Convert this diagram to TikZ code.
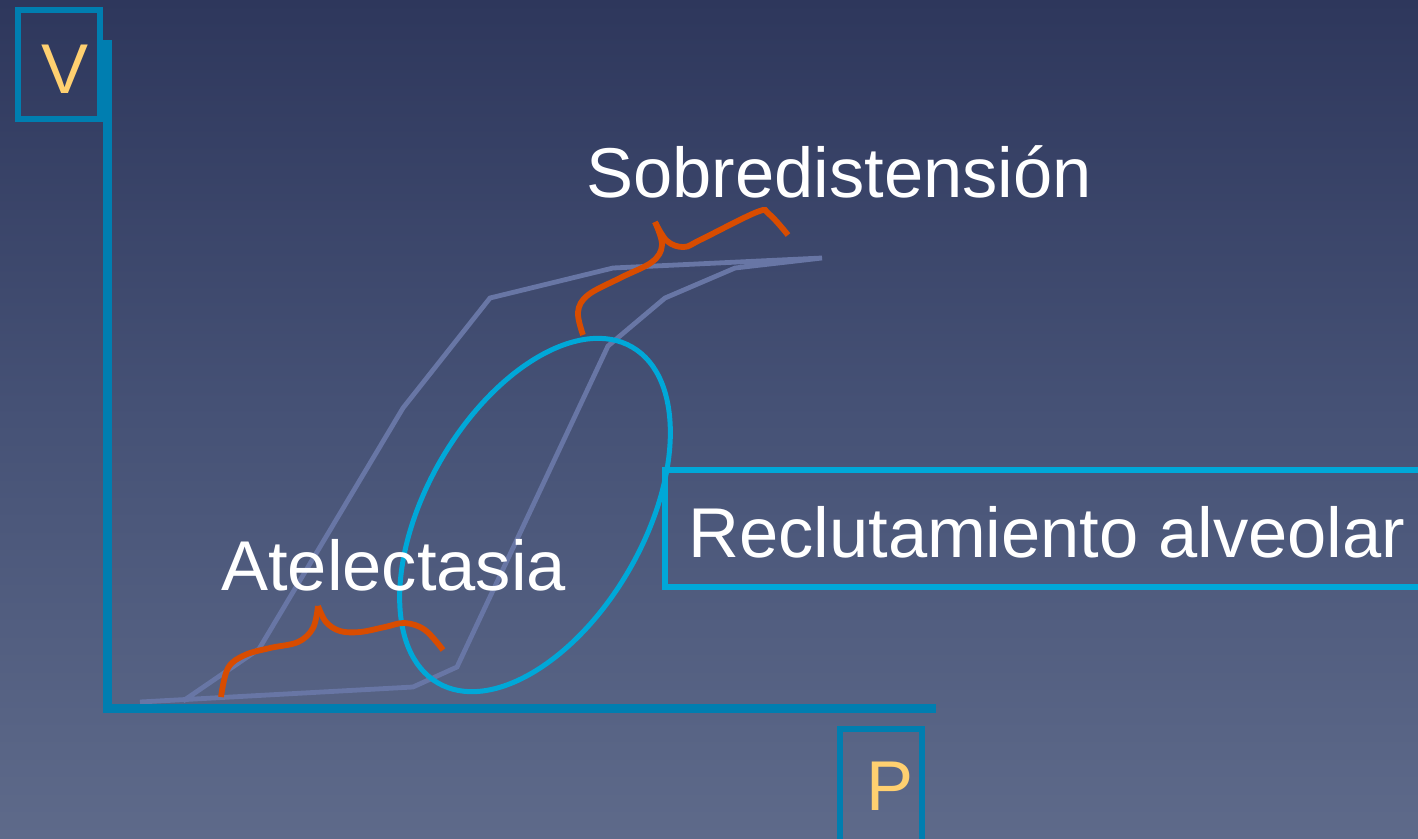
\documentclass[tikz,border=0pt]{standalone}
\usepackage{fontspec}
\setmainfont{Liberation Sans}
\usetikzlibrary{shapes.geometric}
\definecolor{bgtop}{RGB}{46,55,92}
\definecolor{bgmid}{RGB}{70,82,118}
\definecolor{bgbot}{RGB}{94,106,138}
\definecolor{axisblue}{RGB}{0,126,176}
\definecolor{cyanline}{RGB}{0,168,216}
\definecolor{loopcol}{RGB}{104,118,165}
\definecolor{bracecol}{RGB}{216,76,0}
\definecolor{labelyellow}{RGB}{255,208,112}
\tikzset{
  axisline/.style={draw=axisblue, line width=9pt},
  axisbox/.style={draw=axisblue, line width=5.5pt},
  loopline/.style={draw=loopcol, line width=4.8pt, line join=miter},
  bracestyle/.style={draw=bracecol, line width=5.8pt, line cap=butt},
  bigtext/.style={inner sep=0pt, anchor=base west, font=\fontsize{70.5}{84}\selectfont},
}
\begin{document}
\begin{tikzpicture}[x=1pt,y=-1pt]
\useasboundingbox (0,0) rectangle (1418,838);
\shade[top color=bgtop, bottom color=bgbot, middle color=bgmid] (0,0) rectangle (1418,838);
% hysteresis loop
\draw[loopline] (183,701) -- (259,649) -- (403,408) -- (490,298) -- (613,268) -- (822,258)
  -- (735,268) -- (665,298) -- (608,346) -- (457,667) -- (413,687) -- (140,702);
% axes
\coordinate (ytop) at (107,40);
\coordinate (origin) at (107,708);
\coordinate (xend) at (936,708);
\draw[axisline] (ytop) -- (origin) -- (xend);
% axis label boxes
\draw[axisbox] (18,10) rectangle (100,119);
\draw[axisbox] (840,729) rectangle (922,850);
\node[bigtext, text=labelyellow] (V) at (41,93) {V};
\node[bigtext, text=labelyellow] (P) at (866,810) {P};
% recruitment ellipse
\node[ellipse, draw=cyanline, line width=5pt, inner sep=0pt, minimum width=388pt, minimum height=218pt, rotate=60] (recr) at (535,515) {};
% Reclutamiento box
\draw[draw=cyanline, line width=5.5pt] (1425,470) -- (665,470) -- (665,587) -- (1425,587);
\node[bigtext, text=white] (reclu) at (688,557) {Reclutamiento alveolar};
% labels
\node[bigtext, text=white] (sobre) at (586,197) {Sobredistensión};
\node[bigtext, text=white] (atel) at (221,590) {Atelectasia};
% braces
\draw[bracestyle] plot[smooth, tension=0.6] coordinates {(221,697) (228,668) (245,655) (270,648) (298,642) (313,628) (318,606)};
\draw[bracestyle] plot[smooth, tension=0.6] coordinates {(318,606) (326,622) (340,631) (360,632) (385,627) (405,623) (425,630) (443,650)};
\draw[bracestyle] plot[smooth, tension=0.6] coordinates {(583,335) (578,312) (588,295) (620,278) (652,262) (662,245) (655,222)};
\draw[bracestyle] plot[smooth, tension=0.6] coordinates {(655,222) (667,241) (684,247) (702,239) (757,212) (769,214) (788,235)};
\end{tikzpicture}
\end{document}
